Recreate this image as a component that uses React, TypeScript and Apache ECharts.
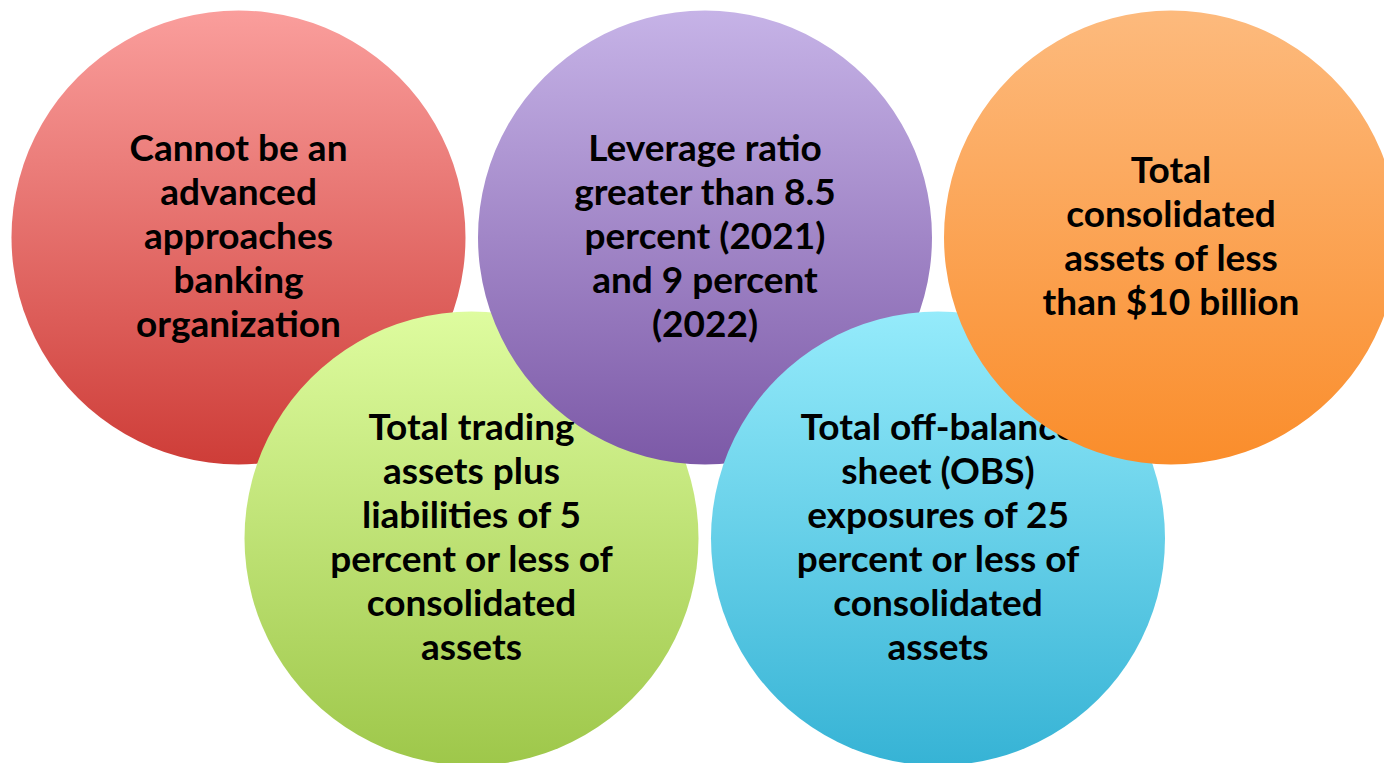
import React, { useEffect, useRef } from "react";
import * as echarts from "echarts";

const labels: string[] = [
  "Cannot be an\nadvanced\napproaches\nbanking\norganization",
  "Total trading\nassets plus\nliabilities of 5\npercent or less of\nconsolidated\nassets",
  "Leverage ratio\ngreater than 8.5\npercent (2021)\nand 9 percent\n(2022)",
  "Total off-balance\nsheet (OBS)\nexposures of 25\npercent or less of\nconsolidated\nassets",
  "Total\nconsolidated\nassets of less\nthan $10 billion",
];
const topColors: string[] = ["#FA9E9C", "#DEFC9F", "#C6B3E7", "#95EBFB", "#FDBA7D"];
const bottomColors: string[] = ["#CE3D38", "#9EC74A", "#7C59A7", "#36B3D5", "#FA8D2B"];

// layout (pixels)
const centers: [number, number][] = [
  [238.5, 237.5],
  [471.5, 538.5],
  [705, 237.5],
  [938, 538.5],
  [1171, 237.5],
];
const R = 227;
const TEXT_DY = -3;

export default function App() {
  const ref = useRef<HTMLDivElement>(null);
  useEffect(() => {
    if (!ref.current) return;
    const chart = echarts.init(ref.current, null, { renderer: "svg" });
    const circle = (i: number) => ({
      type: "circle",
      shape: { cx: centers[i][0], cy: centers[i][1], r: R },
      style: {
        fill: new echarts.graphic.LinearGradient(0, 0, 0, 1, [
          { offset: 0, color: topColors[i] },
          { offset: 1, color: bottomColors[i] },
        ]),
      },
    });
    const text = (i: number) => ({
      type: "text",
      x: centers[i][0],
      y: centers[i][1] + TEXT_DY,
      style: {
        text: labels[i],
        x: 0,
        y: 0,
        align: "center",
        verticalAlign: "middle",
        fill: "#000",
        fontFamily: "Lato",
        fontWeight: "bold",
        fontSize: 37,
        lineHeight: 44,
      },
    });
    chart.setOption({
      animation: false,
      backgroundColor: "#ffffff",
      graphic: {
        elements: [
          circle(0),
          text(0),
          circle(1),
          circle(2),
          text(1),
          text(2),
          circle(3),
          text(3),
          circle(4),
          text(4),
        ],
      },
    });
    return () => chart.dispose();
  }, []);
  return (
    <div
      ref={ref}
      style={{ position: "fixed", left: 0, top: 0, width: 1384, height: 763 }}
    />
  );
}
